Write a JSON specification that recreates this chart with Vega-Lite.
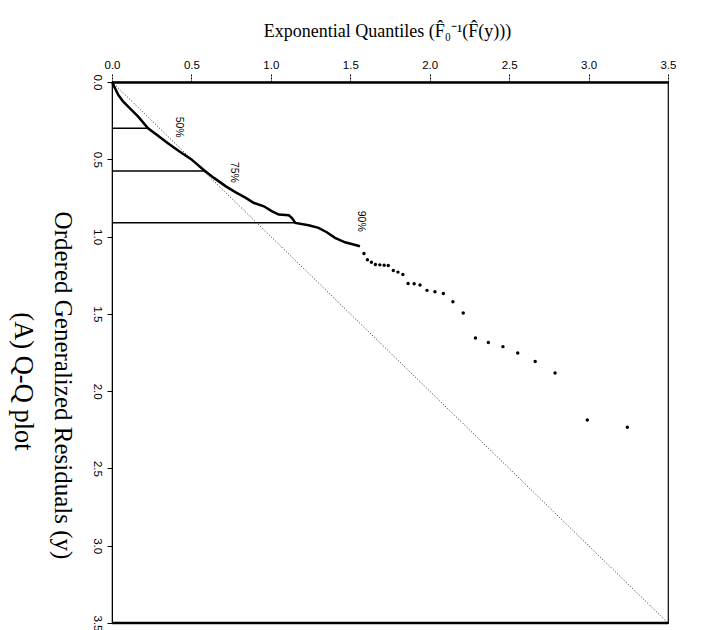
{
  "$schema": "https://vega.github.io/schema/vega-lite/v6.json",
  "width": 556,
  "height": 541,
  "autosize": {"type": "none"},
  "padding": {"left": 112, "top": 82, "right": 44, "bottom": 7},
  "background": "white",
  "config": {"view": {"stroke": "black", "strokeWidth": 1.2}, "font": "Liberation Sans"},
  "title": {"text": "(A) Q-Q plot", "orient": "left", "angle": 90, "font": "Liberation Serif", "fontSize": 26.5, "fontWeight": "normal", "color": "black", "baseline": "alphabetic", "offset": 8, "dx": 29},
  "datasets": {
    "diag": [{"q": 0, "r": 0}, {"q": 3.5, "r": 3.5}],
    "pct": [{"q": 0.227, "r": 0.30}, {"q": 0.581, "r": 0.575}, {"q": 1.154, "r": 0.91}],
    "labels": [{"label": "50%", "q": 0.419, "r": 0.292}, {"label": "75%", "q": 0.769, "r": 0.585}, {"label": "90%", "q": 1.567, "r": 0.901}],
    "curve": [
      {"q": 0, "r": 0}, {"q": 0.019, "r": 0.041}, {"q": 0.04, "r": 0.084}, {"q": 0.071, "r": 0.127},
      {"q": 0.113, "r": 0.17}, {"q": 0.165, "r": 0.224}, {"q": 0.227, "r": 0.299}, {"q": 0.29, "r": 0.348},
      {"q": 0.352, "r": 0.396}, {"q": 0.425, "r": 0.45}, {"q": 0.498, "r": 0.499}, {"q": 0.581, "r": 0.572},
      {"q": 0.644, "r": 0.622}, {"q": 0.717, "r": 0.675}, {"q": 0.779, "r": 0.714}, {"q": 0.842, "r": 0.75},
      {"q": 0.894, "r": 0.783}, {"q": 0.956, "r": 0.804}, {"q": 1.008, "r": 0.837}, {"q": 1.05, "r": 0.858},
      {"q": 1.113, "r": 0.862}, {"q": 1.133, "r": 0.88}, {"q": 1.154, "r": 0.912}, {"q": 1.238, "r": 0.927},
      {"q": 1.3, "r": 0.944}, {"q": 1.352, "r": 0.972}, {"q": 1.404, "r": 1.008}, {"q": 1.467, "r": 1.037},
      {"q": 1.561, "r": 1.063}
    ],
    "tail": [
      {"q": 1.586, "r": 1.11}, {"q": 1.608, "r": 1.15}, {"q": 1.633, "r": 1.166}, {"q": 1.658, "r": 1.181},
      {"q": 1.686, "r": 1.183}, {"q": 1.713, "r": 1.185}, {"q": 1.739, "r": 1.187}, {"q": 1.771, "r": 1.219},
      {"q": 1.8, "r": 1.23}, {"q": 1.831, "r": 1.245}, {"q": 1.864, "r": 1.303}, {"q": 1.902, "r": 1.305},
      {"q": 1.939, "r": 1.314}, {"q": 1.983, "r": 1.348}, {"q": 2.033, "r": 1.357}, {"q": 2.086, "r": 1.368},
      {"q": 2.146, "r": 1.421}, {"q": 2.211, "r": 1.495}, {"q": 2.288, "r": 1.656}, {"q": 2.369, "r": 1.686},
      {"q": 2.461, "r": 1.712}, {"q": 2.554, "r": 1.753}, {"q": 2.664, "r": 1.808}, {"q": 2.789, "r": 1.882},
      {"q": 2.992, "r": 2.187}, {"q": 3.244, "r": 2.234}
    ]
  },
  "encoding": {
    "x": {
      "field": "q", "type": "quantitative",
      "scale": {"domain": [0, 3.5], "nice": false, "zero": false},
      "axis": {
        "orient": "top", "values": [0, 0.5, 1, 1.5, 2, 2.5, 3, 3.5], "format": ".1f", "grid": false,
        "domainColor": "black", "domainWidth": 2.5, "tickColor": "black", "tickSize": 8, "tickWidth": 1, "tickDash": [2, 1],
        "labelFont": "Liberation Sans", "labelFontSize": 11.5, "labelColor": "black", "labelPadding": 4,
        "labelFlush": false, "labelOverlap": false,
        "title": "Exponential Quantiles (F̂₀⁻¹(F̂(y)))", "titleFont": "Liberation Serif", "titleFontSize": 18,
        "titleFontWeight": "normal", "titleColor": "black", "titleX": 275, "titleY": -46,
        "titleBaseline": "alphabetic", "titleAlign": "center", "titleAngle": 0
      }
    },
    "y": {
      "field": "r", "type": "quantitative",
      "scale": {"domain": [0, 3.5], "reverse": true, "nice": false, "zero": false},
      "axis": {
        "orient": "left", "values": [0, 0.5, 1, 1.5, 2, 2.5, 3, 3.5], "format": ".1f", "grid": false,
        "domainColor": "black", "domainWidth": 1, "tickColor": "black", "tickSize": 5, "tickWidth": 1,
        "labelFont": "Liberation Sans", "labelFontSize": 11.5, "labelColor": "black", "labelPadding": 5,
        "labelAngle": 90, "labelAlign": "center", "labelBaseline": "top",
        "labelFlush": false, "labelOverlap": false,
        "title": "Ordered Generalized Residuals (y)", "titleFont": "Liberation Serif", "titleFontSize": 25,
        "titleFontWeight": "normal", "titleColor": "black", "titleAngle": 90, "titleX": -58, "titleY": 303,
        "titleAlign": "center", "titleBaseline": "alphabetic"
      }
    }
  },
  "layer": [
    {
      "data": {"name": "diag"},
      "mark": {"type": "line", "strokeDash": [1, 2], "strokeWidth": 1, "color": "#222"}
    },
    {
      "data": {"name": "diag"},
      "transform": [{"filter": "datum.q == 0"}],
      "mark": {"type": "rule", "strokeWidth": 2.5, "color": "black"},
      "encoding": {"x": {"datum": 0}, "x2": {"datum": 3.5}, "y": {"datum": 3.5}}
    },
    {
      "data": {"name": "pct"},
      "mark": {"type": "rule", "strokeWidth": 1.5, "color": "black"},
      "encoding": {"x": {"datum": 0}, "x2": {"field": "q"}}
    },
    {
      "data": {"name": "curve"},
      "mark": {"type": "line", "strokeWidth": 2.5, "color": "black"}
    },
    {
      "data": {"name": "tail"},
      "mark": {"type": "circle", "size": 12, "color": "black", "opacity": 1}
    },
    {
      "data": {"name": "labels"},
      "mark": {"type": "text", "angle": 90, "font": "Liberation Sans", "fontSize": 10.5, "color": "black", "align": "center", "baseline": "middle"},
      "encoding": {"text": {"field": "label"}}
    }
  ]
}
